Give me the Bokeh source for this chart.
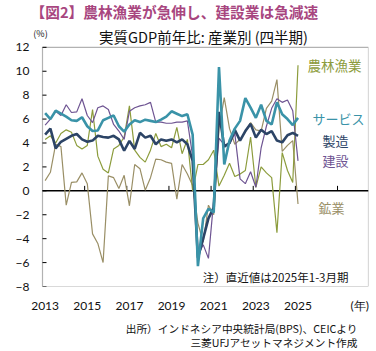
from bokeh.plotting import figure
from bokeh.layouts import column
from bokeh.models import Label, FixedTicker, ColumnDataSource, Range1d, BoxAnnotation
from bokeh.embed import file_html
from bokeh.resources import INLINE

# ---------------- data (YoY %, quarterly, 2013Q1 - 2025Q1) ----------------
first_year = 2013
n_quarters = 49

services = [6.5, 6.0, 6.7, 6.45, 6.2, 5.9, 5.85, 6.15, 5.4, 5.0,
            5.05, 5.9, 6.1, 6.3, 5.4, 4.95, 5.55, 5.9, 5.75, 5.95,
            5.85, 5.75, 5.95, 6.2, 6.65, 6.45, 6.25, 6.4, 4.7, -6.3,
            -2.3, -1.5, -1.8, 10.35, 2.2, 4.2, 5.2, 5.85, 7.75, 6.95,
            6.1, 7.2, 5.85, 5.55, 7.4, 6.4, 6.0, 5.5, 6.1]
manufacturing = [4.7, 5.2, 3.55, 4.1, 4.35, 4.6, 4.75, 4.3, 4.1, 4.2,
                 4.6, 4.5, 4.45, 4.6, 4.3, 3.35, 4.18, 3.5, 4.85, 4.45,
                 4.6, 3.9, 4.3, 4.18, 4.3, 4.05, 4.3, 3.9, 2.5, -5.6,
                 -4.0, -2.3, -1.4, 6.6, 3.7, 4.0, 5.1, 4.2, 5.0, 5.6,
                 4.45, 5.1, 4.75, 5.0, 4.2, 4.05, 4.65, 4.85, 4.6]
construction = [5.5, 6.0, 6.65, 6.3, 7.2, 6.55, 6.6, 7.7, 6.3, 5.7,
                6.95, 7.1, 6.8, 5.55, 5.0, 4.3, 6.65, 6.95, 7.1, 7.2,
                7.4, 5.75, 5.75, 5.65, 5.65, 5.75, 5.75, 5.85, 2.9, -5.4,
                -4.5, -5.65, -0.8, 4.4, 3.85, 3.9, 4.8, 1.0, 0.6, 1.6,
                0.3, 3.6, 5.4, 6.9, 7.7, 7.4, 7.6, 6.7, 2.5]
agriculture = [4.3, 4.6, 4.0, 4.8, 5.1, 4.9, 3.8, 3.5, 3.8, 6.8,
               2.9, 1.8, 1.5, 3.5, 3.8, 4.5, 7.1, 3.4, 2.8, 2.4,
               3.4, 4.8, 3.7, 3.9, 3.6, 5.3, 3.1, 4.3, 0.0, 2.2,
               2.2, 2.6, 3.4, 0.4, 1.3, 2.3, 1.2, 1.4, 1.7, 4.5,
               0.3, 2.0, 1.5, 1.1, -3.5, 3.2, 1.7, 0.7, 10.5]
mining = [0.85, 1.55, 3.9, 3.7, -1.2, 0.7, 0.75, 1.5, 0.6, -3.6,
          -4.4, -6.0, 1.25, 1.1, 0.2, 1.3, -1.25, 2.2, 1.85, 0.05,
          1.1, 2.65, 2.6, 2.4, 2.3, -0.7, 2.2, 1.4, 0.45, -2.7,
          -4.3, -1.2, -2.0, 5.2, 7.8, 5.2, 3.9, 4.3, 4.9, 5.7,
          5.1, 5.0, 6.9, 7.5, 9.3, 3.3, 3.8, 4.2, -1.1]

tick_years = [2013, 2015, 2017, 2019, 2021, 2023, 2025]
boundary_years = [2015, 2017, 2019, 2021, 2023, 2025, 2027]
y_ticks = [-8, -6, -4, -2, 0, 2, 4, 6, 8, 10, 12]
y_min, y_max = -8, 12

series_names = ["鉱業", "農林漁業", "建設", "製造", "サービス"]

# quarter mid-points as fractional years
x = [first_year + (i // 4) + ((i % 4) + 0.5) / 4 for i in range(n_quarters)]

src = ColumnDataSource(dict(x=x, services=services, manufacturing=manufacturing,
                            construction=construction, agriculture=agriculture,
                            mining=mining))

C_AGR = "#8c9c3c"
C_SRV = "#3a93a8"
C_MFG = "#2c4466"
C_CON = "#6e5492"
C_MIN = "#9a8f66"
JP = "Noto Sans CJK JP"

# ---------------- layout (page pixels) ----------------
W = 376
TOP_H, BOT_H = 23, 36
MAIN_H = 351 - TOP_H - BOT_H
FL, FR = 30, 368                      # bokeh frame left/right
FT, FB = TOP_H, 288                   # bokeh frame top/bottom
BOX_L = 42                            # left edge of the drawn plot box
PX_YEAR = (FR - BOX_L) / 15.47        # px per year
PX_UNIT = (FB - 47) / (y_max - y_min) # px per percentage point

x_start = first_year - (BOX_L - FL) / PX_YEAR
x_end = first_year + (FR - BOX_L) / PX_YEAR
y_top = y_min + (FB - FT) / PX_UNIT


def text_panel(h, y0):
    f = figure(width=W, height=h, output_backend="svg", toolbar_location=None,
               x_range=Range1d(0, W), y_range=Range1d(y0 + h, y0),
               x_axis_type=None, y_axis_type=None,
               min_border_left=0, min_border_right=0,
               min_border_top=0, min_border_bottom=0)
    f.outline_line_color = None
    f.background_fill_color = "white"
    f.border_fill_color = "white"
    return f


def put(fig, text, px, py, size, color="#111111", align="left", style="normal"):
    fig.add_layout(Label(x=px, y=py, text=text, text_font=JP,
                         text_font_size=f"{size}px", text_color=color,
                         text_align=align, text_baseline="middle",
                         text_font_style=style))


# ---------- top text panel ----------
top = text_panel(TOP_H, 0)
put(top, "【図2】農林漁業が急伸し、建設業は急減速", 0, 11, 14.7, color="#a8467f", style="bold")

# ---------- main chart ----------
p = figure(width=W, height=MAIN_H, output_backend="svg", toolbar_location=None,
           x_range=Range1d(x_start, x_end), y_range=Range1d(y_min, y_top),
           min_border_left=FL, min_border_right=W - FR,
           min_border_top=0, min_border_bottom=(TOP_H + MAIN_H) - FB)
p.background_fill_color = "white"
p.border_fill_color = "white"
p.outline_line_color = None
p.xgrid.visible = False
p.ygrid.visible = False

p.yaxis.ticker = FixedTicker(ticks=y_ticks)
p.yaxis.axis_line_color = None
p.yaxis.major_tick_line_color = None
p.yaxis.minor_tick_line_color = None
p.yaxis.major_tick_in = 0
p.yaxis.major_tick_out = 0
p.yaxis.major_label_standoff = 1
p.yaxis.major_label_text_font = "Lato"
p.yaxis.major_label_text_font_size = "12px"
p.yaxis.major_label_text_color = "#111111"

x_ticks = [yr + 0.125 for yr in tick_years] + [2028.05]
overrides = {yr + 0.125: str(yr) for yr in tick_years}
overrides[2028.05] = "(年)"
p.xaxis.ticker = FixedTicker(ticks=x_ticks)
p.xaxis.major_label_overrides = overrides
p.xaxis.axis_line_color = None
p.xaxis.major_tick_line_color = None
p.xaxis.minor_tick_line_color = None
p.xaxis.major_tick_in = 0
p.xaxis.major_tick_out = 0
p.xaxis.major_label_standoff = 11
p.xaxis.major_label_text_font = "Lato"
p.xaxis.major_label_text_font_size = "12px"
p.xaxis.major_label_text_color = "#111111"

# plot box (from 2013 to the right edge, -8 to 12)
p.add_layout(BoxAnnotation(left=first_year, bottom=y_min, top=y_max,
                           fill_alpha=0, line_color="black", line_width=1.2))

# y tick marks (inside the box)
tick_len = 4 / PX_YEAR
p.segment(x0=[first_year] * len(y_ticks), y0=y_ticks,
          x1=[first_year + tick_len] * len(y_ticks), y1=y_ticks,
          line_color="black", line_width=1)

# zero line and its tick marks
p.segment(x0=[first_year], y0=[0], x1=[x_end], y1=[0], line_color="black", line_width=1.5)
p.segment(x0=boundary_years, y0=[0] * len(boundary_years),
          x1=boundary_years, y1=[5 / PX_UNIT] * len(boundary_years),
          line_color="black", line_width=1)

# lines
p.line("x", "mining", source=src, line_color=C_MIN, line_width=1.2)
p.line("x", "agriculture", source=src, line_color=C_AGR, line_width=1.2)
p.line("x", "construction", source=src, line_color=C_CON, line_width=1.2)
p.line("x", "manufacturing", source=src, line_color=C_MFG, line_width=2.6)
p.line("x", "services", source=src, line_color=C_SRV, line_width=2.6)


def lab(text, px, py, size, color="#111111", align="left"):
    # page pixel -> frame screen coords
    p.add_layout(Label(x=px - FL, y=FB - py, x_units="screen", y_units="screen",
                       text=text, text_font=JP, text_font_size=f"{size}px",
                       text_color=color, text_align=align, text_baseline="middle"))


lab("実質GDP前年比: 産業別 (四半期)", 203, 38, 14.5, align="center")
lab("(%)", 40, 35, 9, align="center")
lab(series_names[1], 334, 66, 13.5, color=C_AGR, align="center")
lab(series_names[4], 338, 120, 13, color=C_SRV, align="center")
lab(series_names[3], 335, 142, 13, color=C_MFG, align="center")
lab(series_names[2], 335, 162, 13, color=C_CON, align="center")
lab(series_names[0], 331, 209, 13, color=C_MIN, align="center")
lab("注）直近値は2025年1-3月期", 348, 278, 11.5, align="right")

# ---------- bottom text panel ----------
bot = text_panel(BOT_H, TOP_H + MAIN_H)
put(bot, "出所）インドネシア中央統計局(BPS)、CEICより", 364, 328, 10.7, align="right")
put(bot, "三菱UFJアセットマネジメント作成", 364, 342, 10.7, align="right")

layout = column(top, p, bot, spacing=0)
open("out.html", "w").write(file_html(layout, INLINE))
